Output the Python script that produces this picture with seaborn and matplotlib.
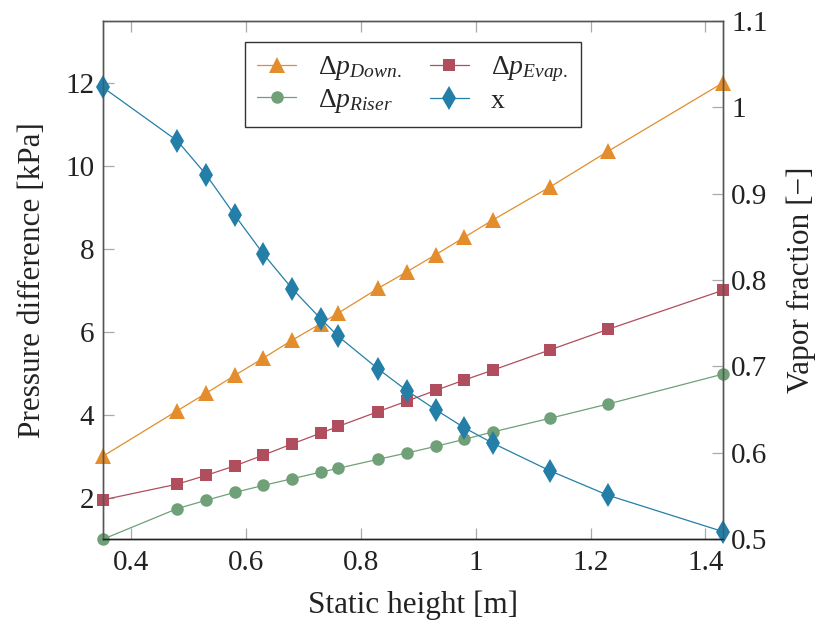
import matplotlib
matplotlib.use("Agg")
import matplotlib.pyplot as plt
import seaborn as sns
import pandas as pd

# Static height of the riser [m]
height = [0.35, 0.48, 0.53, 0.58, 0.63, 0.68, 0.73, 0.76, 0.83, 0.88,
          0.93, 0.98, 1.03, 1.13, 1.23, 1.43]

# Pressure differences [kPa]
dp_down = [3.0, 4.1, 4.52, 4.95, 5.37, 5.8, 6.2, 6.45, 7.05, 7.45,
           7.86, 8.28, 8.7, 9.5, 10.35, 12.0]
dp_evap = [1.95, 2.33, 2.54, 2.77, 3.03, 3.3, 3.56, 3.72, 4.08, 4.33,
           4.59, 4.84, 5.08, 5.57, 6.06, 7.0]
dp_riser = [1.0, 1.74, 1.94, 2.13, 2.3, 2.46, 2.62, 2.71, 2.93, 3.08,
            3.24, 3.41, 3.59, 3.92, 4.26, 4.98]

# Vapor fraction [-]
vapor = [1.023, 0.961, 0.922, 0.875, 0.83, 0.79, 0.755, 0.735, 0.697, 0.672,
         0.65, 0.629, 0.611, 0.579, 0.551, 0.509]

x_ticks = [0.4, 0.6, 0.8, 1.0, 1.2, 1.4]
x_tick_labels = ["0.4", "0.6", "0.8", "1", "1.2", "1.4"]
left_ticks = [2, 4, 6, 8, 10, 12]
right_ticks = [0.5, 0.6, 0.7, 0.8, 0.9, 1.0, 1.1]
right_tick_labels = ["0.5", "0.6", "0.7", "0.8", "0.9", "1", "1.1"]

sns.set_style("white")
plt.rcParams["font.family"] = ["Liberation Serif", "DejaVu Serif"]
plt.rcParams["mathtext.fontset"] = "custom"
plt.rcParams["mathtext.rm"] = "Liberation Serif"
plt.rcParams["mathtext.it"] = "Liberation Serif:italic"
plt.rcParams["mathtext.bf"] = "Liberation Serif:bold"

c_down = "#E38D2C"
c_evap = "#B04E5D"
c_riser = "#6FA078"
c_x = "#247FA8"
text_c = "#222222"

df = pd.DataFrame({"h": height, "down": dp_down, "evap": dp_evap,
                   "riser": dp_riser, "x": vapor})

fig = plt.figure(figsize=(8.22, 6.2), dpi=100)
ax = fig.add_axes([102.7 / 822, 1 - 539.3 / 620, 620 / 822, 518.6 / 620])
ax2 = ax.twinx()

lw = 0.9
common = dict(markeredgewidth=0, linewidth=lw, clip_on=False)
sns.lineplot(data=df, x="h", y="down", ax=ax, color=c_down, marker="^",
             markersize=11, label=r"$\Delta p_{Down.}$", **common)
sns.lineplot(data=df, x="h", y="riser", ax=ax, color=c_riser, marker="o",
             markersize=9, label=r"$\Delta p_{Riser}$", **common)
sns.lineplot(data=df, x="h", y="evap", ax=ax, color=c_evap, marker="s",
             markersize=8.5, label=r"$\Delta p_{Evap.}$", **common)
sns.lineplot(data=df, x="h", y="x", ax=ax2, color=c_x, marker="d",
             markersize=12, label="x", **common)

for a in (ax, ax2):
    a.set_xlim(0.35, 1.43)
    for s in a.spines.values():
        s.set_color("#555555")
        s.set_linewidth(1.0)
    a.spines["bottom"].set_color("#222222")

ax.set_ylim(1, 13.5)
ax2.set_ylim(0.5, 1.1)

ax.set_xticks(x_ticks)
ax.set_xticklabels(x_tick_labels)
ax.set_yticks(left_ticks)
ax2.set_yticks(right_ticks)
ax2.set_yticklabels(right_tick_labels)

tick_kw = dict(direction="in", length=8, width=0.9, color="#aaaaaa",
               labelcolor=text_c, labelsize=21)
ax.tick_params(axis="x", top=True, bottom=True, pad=8, **tick_kw)
ax.tick_params(axis="y", left=True, right=False, pad=6, **tick_kw)
ax2.tick_params(axis="y", right=True, left=False, pad=6, **tick_kw)

ax.set_xlabel("Static height [m]", fontsize=22.5, color=text_c, labelpad=10)
ax.set_ylabel("Pressure difference [kPa]", fontsize=22.5, color=text_c, labelpad=13)
ax2.set_ylabel("Vapor fraction [\u2212]", fontsize=22.5, color=text_c, labelpad=14)

h1, l1 = ax.get_legend_handles_labels()
h2, l2 = ax2.get_legend_handles_labels()
ax.get_legend().remove()
ax2.get_legend().remove()
ax2.legend(h1 + h2, l1 + l2, ncol=2, loc="upper center",
           bbox_to_anchor=(0.5, 0.959), borderaxespad=0, fontsize=20,
           frameon=True, fancybox=False, edgecolor="#333333", framealpha=1,
           handlelength=1.4, handletextpad=0.8, columnspacing=1.0,
           labelspacing=0.15, borderpad=0.45)

fig.savefig("out.png", dpi=100)
